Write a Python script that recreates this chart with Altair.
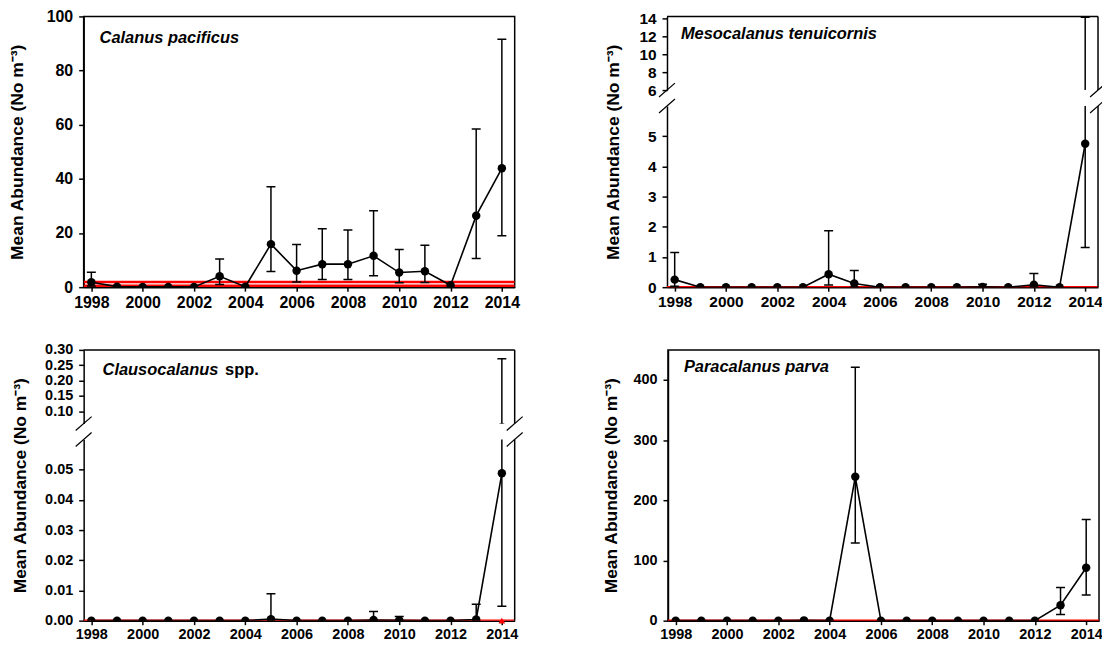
import altair as alt
import pandas as pd

# ---------------- data ----------------
YEARS = list(range(1998, 2015))

CAL_MEAN = [1.8, 0.2, 0.1, 0.1, 0.1, 4.0, 0.2, 15.9, 6.1, 8.5, 8.5, 11.6, 5.4, 5.9, 0.7, 26.4, 43.9]
CAL_LO = [0.4, None, None, None, None, 1.0, None, 5.8, 1.9, 2.8, 2.8, 4.2, 1.6, 1.7, None, 10.6, 19.0]
CAL_HI = [5.5, None, None, None, None, 10.4, None, 37.1, 15.8, 21.6, 21.1, 28.2, 13.9, 15.5, None, 58.4, 91.6]
CAL_RED = [1.9, 0.5]

MES_MEAN = [0.25, 0, 0, 0, 0, 0, 0.43, 0.12, 0, 0, 0, 0, 0.01, 0, 0.08, 0, 4.75]
MES_LO = [0.03, None, None, None, None, None, 0.07, 0.01, None, None, None, None, None, None, 0.01, None, 1.31]
MES_HI = [1.15, None, None, None, None, None, 1.87, 0.55, None, None, None, None, 0.1, None, 0.45, None, 14.1]

CLA_MEAN = [0, 0, 0, 0, 0, 0, 0, 0.0005, 0, 0, 0, 0.0002, 0.0001, 0, 0, 0.0004, 0.0488]
CLA_LO = [None, None, None, None, None, None, None, None, None, None, None, None, None, None, None, None, 0.0048]
CLA_HI = [None, None, None, None, None, None, None, 0.0089, None, None, None, 0.003, 0.0014, None, None, 0.0054, 0.271]
CLA_RED_PT_YEAR = [2014]
CLA_RED_PT_VAL = [0]

PAR_MEAN = [0, 0, 0, 0, 0, 0.5, 0, 239, 0, 0, 0, 0, 0, 0, 0, 25.7, 88]
PAR_LO = [None, None, None, None, None, None, None, 129, None, None, None, None, None, None, None, 10.4, 42.6]
PAR_HI = [None, None, None, None, None, None, None, 421, None, None, None, None, None, None, None, 55.2, 168]

ZERO_RED = [0]

SPECIES = ["Calanus pacificus", "Mesocalanus tenuicornis", "Clausocalanus", "spp.", "Paracalanus parva"]
YTITLE = "Mean Abundance (No m\u207b\u00b3)"
XTICKS = list(range(1998, 2015, 2))

# ---------------- layout ----------------
FONT = "Liberation Sans"
W = 433
H = 272
HU = 74
GAP = 16
HL = H - HU - GAP
XDOM = [1997.7, 2014.5]


def series_df(mean, lo, hi):
    return pd.DataFrame({"year": YEARS, "mean": mean, "lo": lo, "hi": hi})


def x_enc(show, size):
    if show:
        ax = alt.Axis(values=XTICKS, format="d", labelFontSize=size, title=None,
                      tickSize=4, labelPadding=3)
    else:
        ax = None
    return alt.X("year:Q", scale=alt.Scale(domain=XDOM, nice=False, zero=False), axis=ax)


def title_kw(tx, ty):
    return dict(title=YTITLE, titleX=tx, titleY=ty, titleAngle=270, titleAlign="center",
                titleBaseline="middle")


def panel_layers(df, red_vals, ydom, yticks, yfmt, show_x, lsize, tkw, red_pts=None):
    yscale = alt.Scale(domain=ydom, nice=False, zero=False)
    yaxis = alt.Axis(values=yticks, format=yfmt, labelFontSize=lsize, tickSize=5,
                     labelPadding=6, **tkw)
    X = x_enc(show_x, lsize)

    def Y(field):
        return alt.Y(field, type="quantitative", scale=yscale, axis=yaxis)

    red = alt.Chart(pd.DataFrame({"v": red_vals})).mark_rule(
        color="#ff0000", strokeWidth=2.5, clip=True).encode(y=Y("v"))
    bars_df = df[df["hi"].notna()].copy()
    bars_df["bottom"] = bars_df["lo"].fillna(bars_df["mean"])
    bars = alt.Chart(bars_df).mark_rule(color="black", strokeWidth=1.5, clip=True).encode(
        x=X, y=Y("bottom"), y2="hi:Q")
    caps_hi = alt.Chart(bars_df).mark_tick(color="black", orient="horizontal", size=9,
                                           thickness=1.5, clip=True, opacity=1).encode(x=X, y=Y("hi"))
    lo_df = df[df["lo"].notna()]
    caps_lo = alt.Chart(lo_df).mark_tick(color="black", orient="horizontal", size=9,
                                         thickness=1.5, clip=True, opacity=1).encode(x=X, y=Y("lo"))
    line = alt.Chart(df).mark_line(color="black", strokeWidth=1.6, clip=True).encode(x=X, y=Y("mean"))
    pts = alt.Chart(df).mark_circle(color="black", size=72, opacity=1, clip=True).encode(x=X, y=Y("mean"))
    layers = [red, bars, caps_hi, caps_lo, line]
    if red_pts is not None:
        tri = alt.Chart(red_pts).mark_point(
            shape="triangle-up", filled=True, color="#ff0000", size=45, opacity=1).encode(
            x=X, y=Y("v"))
        layers.append(tri)
    layers.append(pts)
    return layers


def label(text, x, y, italic=True):
    return alt.Chart(pd.DataFrame({"a": [0]})).mark_text(
        align="left", baseline="middle", font=FONT, fontSize=16.5, fontWeight="bold",
        fontStyle="italic" if italic else "normal", color="black"
    ).encode(x=alt.value(x), y=alt.value(y), text=alt.value(text))


def deco_rule(x, y, x2, y2, w=1.5):
    return alt.Chart(pd.DataFrame({"a": [0]})).mark_rule(color="black", strokeWidth=w).encode(
        x=alt.value(x), y=alt.value(y), x2=alt.value(x2), y2=alt.value(y2))


BOX = alt.ViewBackground(stroke="black", strokeWidth=1.5)
NOBOX = alt.ViewBackground(stroke="transparent")


def simple_panel(df, red_vals, ydom, yticks, yfmt, lsize, tx, texts):
    layers = panel_layers(df, red_vals, ydom, yticks, yfmt, True, lsize, title_kw(tx, H / 2))
    return alt.layer(*layers, *texts).properties(width=W, height=H, view=BOX)


def upper_part(df, red_vals, dom_u, ticks_u, yfmt, lsize, texts):
    up_layers = panel_layers(df, red_vals, dom_u, ticks_u, yfmt, False, lsize, dict(title=None))
    return alt.layer(
        *up_layers,
        deco_rule(0, 0, W, 0),
        deco_rule(W, 0, W, HU),
        deco_rule(-8, HU + 7, 8, HU - 7, 1.2),
        deco_rule(W - 8, HU + 7, W + 8, HU - 7, 1.2),
        *texts,
    ).properties(width=W, height=HU, view=NOBOX)


def lower_part(layers):
    return alt.layer(
        *layers,
        deco_rule(W, 0, W, HL),
        deco_rule(-8, 7, 8, -7, 1.2),
        deco_rule(W - 8, 7, W + 8, -7, 1.2),
    ).properties(width=W, height=HL, view=NOBOX)


LOWER_TY = (H / 2) - HU - GAP

# Panel 1
p1 = simple_panel(series_df(CAL_MEAN, CAL_LO, CAL_HI), CAL_RED, [0, 100],
                  [0, 20, 40, 60, 80, 100], "d", 16, -66, [label(SPECIES[0], 16, 22)])

# Panel 2 (broken axis)
mes_df = series_df(MES_MEAN, MES_LO, MES_HI)
p2 = alt.vconcat(
    upper_part(mes_df, ZERO_RED, [6, 14.2], [6, 8, 10, 12, 14], "d", 15.5,
               [label(SPECIES[1], 14, 18)]),
    lower_part(panel_layers(mes_df, ZERO_RED, [0, 6], [0, 1, 2, 3, 4, 5], "d", True, 15.5,
                            title_kw(-54, LOWER_TY))),
    spacing=GAP, bounds="flush")

# Panel 3 (broken axis)
cla_df = series_df(CLA_MEAN, CLA_LO, CLA_HI)
tri_df = pd.DataFrame({"year": CLA_RED_PT_YEAR, "v": CLA_RED_PT_VAL})
p3 = alt.vconcat(
    upper_part(cla_df, ZERO_RED, [0.06, 0.30], [0.10, 0.15, 0.20, 0.25, 0.30], ".2f", 14.5,
               [label(SPECIES[2], 19, 20), label(SPECIES[3], 142, 20, italic=False)]),
    lower_part(panel_layers(cla_df, ZERO_RED, [0, 0.06], [0, 0.01, 0.02, 0.03, 0.04, 0.05],
                            ".2f", True, 14.5, title_kw(-63, LOWER_TY), red_pts=tri_df)),
    spacing=GAP, bounds="flush")

# Panel 4
p4 = simple_panel(series_df(PAR_MEAN, PAR_LO, PAR_HI), ZERO_RED, [0, 450],
                  [0, 100, 200, 300, 400], "d", 14.5, -57, [label(SPECIES[4], 16, 17)])

top = alt.hconcat(p1, p2, spacing=83)
bottom = alt.hconcat(p3, p4, spacing=77)

chart = alt.vconcat(top, bottom, spacing=30).properties(
    padding={"left": 0, "top": -2, "right": -6, "bottom": 0},
    background="white",
).configure_view(stroke="transparent").configure_axis(
    labelFont=FONT, titleFont=FONT, labelFontWeight="bold", titleFontWeight="bold",
    labelColor="black", titleColor="black", tickColor="black", domainColor="black",
    domainWidth=1.5, tickWidth=1.5, grid=False, titleFontSize=17.5,
).configure_text(font=FONT)

chart.save("out.html", embed_options={"renderer": "svg", "actions": False})
